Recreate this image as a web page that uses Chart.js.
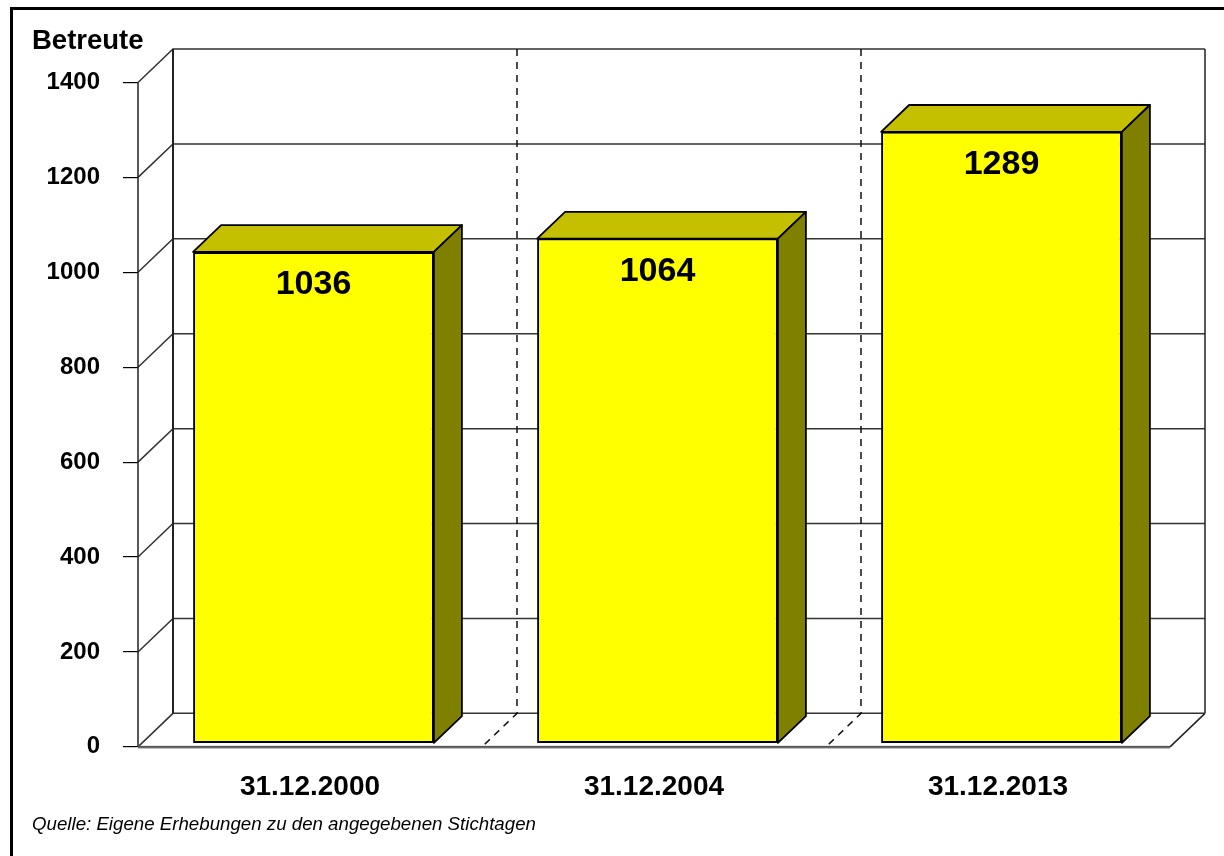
<!DOCTYPE html>
<html>
<head>
<meta charset="utf-8">
<script src="https://cdn.jsdelivr.net/npm/chart.js@4.4.1/dist/chart.umd.min.js"></script>
<style>
  html, body { margin: 0; padding: 0; background: #fff; overflow: hidden; }
  #wrap { position: relative; width: 1224px; height: 856px; }
  #frame { position: absolute; left: 10px; top: 7px; width: 1300px; height: 900px;
           border: 3px solid #000; box-sizing: border-box; pointer-events: none; }
  canvas { position: absolute; left: 0; top: 0; }
</style>
</head>
<body>
<div id="wrap">
  <canvas id="myChart" width="1224" height="856"></canvas>
  <div id="frame"></div>
</div>
<script>
// Daten
const categories = ["31.12.2000", "31.12.2004", "31.12.2013"];
const betreute = [1036, 1064, 1289];
const yTickValues = [0, 200, 400, 600, 800, 1000, 1200, 1400];

const FONT = "Arial, 'Liberation Sans', sans-serif";
const DX = 35;      // Tiefe nach rechts
const DY = -33.5;   // Tiefe nach oben
const BAR_FRONT = 0.1;
const BAR_BACK = 0.9;

/**
 * Hintergrund: Rückwand, Seitenwand, Boden und Gitterlinien
 */
const wallsPlugin = {
  id: "walls",
  beforeDatasetsDraw(chart) {
    const { ctx, chartArea, scales } = chart;
    const x = scales.x, y = scales.y;
    const L = chartArea.left, R = chartArea.right;
    const y0 = y.getPixelForValue(0);
    const yTop = y.getPixelForValue(yTickValues[yTickValues.length - 1]);

    ctx.save();
    ctx.lineWidth = 1.5;
    ctx.strokeStyle = "#333";

    // horizontale Gitterlinien auf Rück- und Seitenwand
    yTickValues.forEach((v) => {
      const py = y.getPixelForValue(v);
      ctx.beginPath();
      ctx.moveTo(L, py);
      ctx.lineTo(L + DX, py + DY);
      ctx.lineTo(R + DX, py + DY);
      ctx.stroke();
    });

    // Kanten
    ctx.strokeStyle = "#222";
    ctx.beginPath();
    ctx.moveTo(L, yTop); ctx.lineTo(L, y0);
    ctx.moveTo(R + DX, yTop + DY); ctx.lineTo(R + DX, y0 + DY);
    ctx.moveTo(R, y0); ctx.lineTo(R + DX, y0 + DY);
    ctx.stroke();

    ctx.lineWidth = 2;
    ctx.beginPath();
    ctx.moveTo(L + DX, yTop + DY); ctx.lineTo(L + DX, y0 + DY);
    ctx.stroke();

    // Vorderkante des Bodens (grau, doppelt)
    ctx.lineWidth = 3;
    ctx.strokeStyle = "#aaa";
    ctx.beginPath();
    ctx.moveTo(L, y0 + 0.5); ctx.lineTo(R, y0 + 0.5);
    ctx.stroke();
    ctx.lineWidth = 1.2;
    ctx.strokeStyle = "#333";
    ctx.beginPath();
    ctx.moveTo(L, y0); ctx.lineTo(R, y0);
    ctx.stroke();

    // gestrichelte Kategorie-Trennlinien
    ctx.lineWidth = 1.5;
    ctx.strokeStyle = "#111";
    ctx.setLineDash([7, 6]);
    for (let i = 0; i < categories.length - 1; i++) {
      const xb = (x.getPixelForValue(i) + x.getPixelForValue(i + 1)) / 2;
      ctx.beginPath();
      ctx.moveTo(xb + DX, yTop + DY);
      ctx.lineTo(xb + DX, y0 + DY);
      ctx.lineTo(xb, y0);
      ctx.stroke();
    }
    ctx.restore();

    // Balken leicht nach hinten versetzen
    ctx.save();
    ctx.translate(DX * BAR_FRONT, DY * BAR_FRONT);
  },
  afterDatasetsDraw(chart) {
    const { ctx } = chart;
    const meta = chart.getDatasetMeta(0);
    const bdx = DX * (BAR_BACK - BAR_FRONT);
    const bdy = DY * (BAR_BACK - BAR_FRONT);

    meta.data.forEach((bar, i) => {
      const { x, y, base, width } = bar.getProps(["x", "y", "base", "width"], true);
      const xl = x - width / 2, xr = x + width / 2;

      ctx.save();
      ctx.lineWidth = 1.8;
      ctx.strokeStyle = "#000";
      ctx.lineJoin = "round";

      // Oberseite
      ctx.beginPath();
      ctx.moveTo(xl, y);
      ctx.lineTo(xl + bdx, y + bdy);
      ctx.lineTo(xr + bdx, y + bdy);
      ctx.lineTo(xr, y);
      ctx.closePath();
      ctx.fillStyle = "#C4C000";
      ctx.fill();
      ctx.stroke();

      // Seite
      ctx.beginPath();
      ctx.moveTo(xr, y);
      ctx.lineTo(xr + bdx, y + bdy);
      ctx.lineTo(xr + bdx, base + bdy);
      ctx.lineTo(xr, base);
      ctx.closePath();
      ctx.fillStyle = "#808000";
      ctx.fill();
      ctx.stroke();

      // Wert
      ctx.fillStyle = "#000";
      ctx.font = "bold 34px " + FONT;
      ctx.textAlign = "center";
      ctx.textBaseline = "alphabetic";
      ctx.fillText(String(betreute[i]), x, y + 42);
      ctx.restore();
    });

    ctx.restore();
  },
};

const ctx = document.getElementById("myChart").getContext("2d");
new Chart(ctx, {
  type: "bar",
  data: {
    labels: categories,
    datasets: [
      {
        label: "Betreute",
        data: betreute,
        backgroundColor: "#FFFF00",
        borderColor: "#000",
        borderWidth: 2,
        borderSkipped: false,
        barPercentage: 0.70,
        categoryPercentage: 1,
      },
    ],
  },
  options: {
    responsive: false,
    animation: false,
    layout: { padding: { left: 32, right: 54, top: 8, bottom: 10 } },
    plugins: {
      legend: { display: false },
      tooltip: { enabled: false },
      title: {
        display: true,
        text: "Betreute",
        align: "start",
        color: "#000",
        font: { family: FONT, size: 27.5, weight: "bold", lineHeight: 1.2 },
        padding: { top: 17, bottom: 24.5 },
      },
      subtitle: {
        display: true,
        position: "bottom",
        text: "Quelle: Eigene Erhebungen zu den angegebenen Stichtagen",
        align: "start",
        color: "#000",
        font: { family: FONT, size: 18.7, style: "italic", lineHeight: 1.2 },
        padding: { top: 0, bottom: 9.5 },
      },
    },
    scales: {
      x: {
        grid: { display: false },
        border: { display: false },
        ticks: {
          color: "#000",
          padding: 15.2,
          maxRotation: 0,
          font: { family: FONT, size: 28, weight: "bold", lineHeight: 1.2 },
        },
        afterFit(scale) { scale.height = 67.2; },
      },
      y: {
        min: 0,
        max: 1400,
        grid: { display: true, drawOnChartArea: false, drawTicks: true, tickLength: 15, color: "#000", lineWidth: 1.2 },
        border: { display: false },
        ticks: {
          color: "#000",
          padding: 23,
          font: { family: FONT, size: 24, weight: "bold" },
          callback: (value) => String(value),
        },
        afterBuildTicks(scale) { scale.ticks = yTickValues.map((v) => ({ value: v })); },
        afterFit(scale) { scale.width = 106; },
      },
    },
  },
  plugins: [wallsPlugin],
});
</script>
</body>
</html>
